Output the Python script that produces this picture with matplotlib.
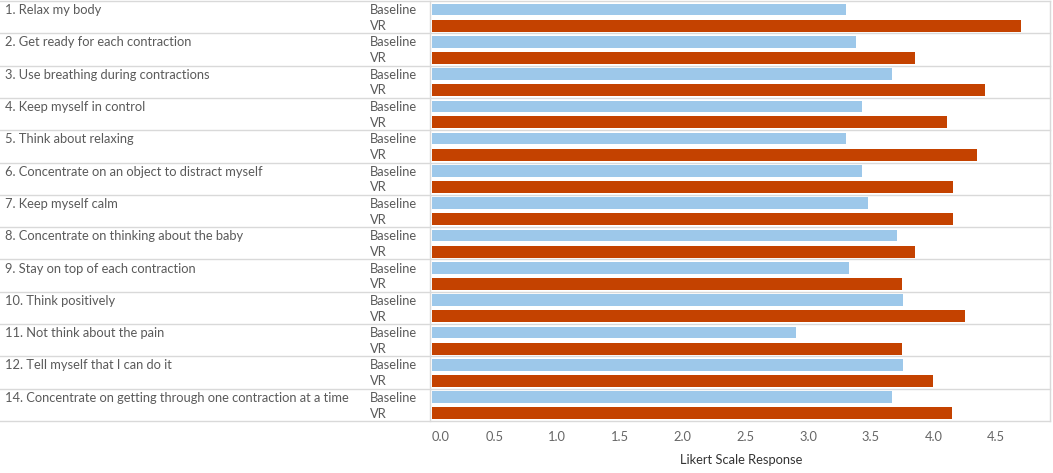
import matplotlib
matplotlib.use("Agg")
import matplotlib.pyplot as plt
import matplotlib.transforms as mtransforms
from matplotlib.lines import Line2D
import numpy as np

plt.rcParams['font.family'] = ['Lato', 'DejaVu Sans']

questions = [
    "1. Relax my body",
    "2. Get ready for each contraction",
    "3. Use breathing during contractions",
    "4. Keep myself in control",
    "5. Think about relaxing",
    "6. Concentrate on an object to distract myself",
    "7. Keep myself calm",
    "8. Concentrate on thinking about the baby",
    "9. Stay on top of each contraction",
    "10. Think positively",
    "11. Not think about the pain",
    "12. Tell myself that I can do it",
    "14. Concentrate on getting through one contraction at a time",
]
baseline = [3.30, 3.38, 3.67, 3.43, 3.30, 3.43, 3.48, 3.71, 3.33, 3.76, 2.90, 3.76, 3.67]
vr = [4.70, 3.85, 4.41, 4.11, 4.35, 4.16, 4.16, 3.85, 3.75, 4.25, 3.75, 4.00, 4.15]
groups = ["Baseline", "VR"]
xticks = [0.0, 0.5, 1.0, 1.5, 2.0, 2.5, 3.0, 3.5, 4.0, 4.5]

BLUE = "#9dc8ea"
ORANGE = "#c44200"
LINE = "#d9d9d9"
TEXT = "#5a5a5a"


def main():
    fig = plt.figure(figsize=(10.53, 4.73), dpi=100)
    W, H = 1053, 473
    ax = fig.add_axes([432 / W, (H - 421) / H, (1050 - 432) / W, 420 / H])

    n = len(questions)
    rows = np.arange(n)
    ax.barh(rows + 0.26, baseline, height=0.36, color=BLUE)
    ax.barh(rows + 0.76, vr, height=0.37, color=ORANGE)

    ax.set_xlim(0, 4.93)
    ax.set_ylim(n, 0)
    ax.set_yticks([])
    ax.set_xticks(xticks)
    ax.set_xticklabels([f"{t:.1f}" for t in xticks])
    ax.get_xticklabels()[0].set_horizontalalignment("left")
    ax.tick_params(axis="x", length=0, pad=7, labelsize=9.3, labelcolor="#666666")
    for s in ax.spines.values():
        s.set_visible(False)
    ax.set_xlabel("Likert Scale Response", fontsize=9.3, color="#333333", labelpad=8)

    trans = mtransforms.blended_transform_factory(fig.transFigure, ax.transData)
    # row separators over the whole width
    for i in range(n + 1):
        fig.add_artist(Line2D([0, 1050 / W], [i, i], transform=trans,
                              color=LINE, lw=1.0))
    # vertical borders
    for xp in (430, 1050):
        fig.add_artist(Line2D([xp / W, xp / W], [0, n], transform=trans,
                              color=LINE, lw=1.0))

    for i, q in enumerate(questions):
        fig.text(5 / W, i + 0.28, q, transform=trans, fontsize=9.3,
                 color=TEXT, va="center", ha="left")
        fig.text(370 / W, i + 0.28, groups[0], transform=trans, fontsize=9.3,
                 color=TEXT, va="center", ha="left")
        fig.text(370 / W, i + 0.77, groups[1], transform=trans, fontsize=9.3,
                 color=TEXT, va="center", ha="left")

    fig.savefig("out.png", dpi=100)


if __name__ == "__main__":
    main()
